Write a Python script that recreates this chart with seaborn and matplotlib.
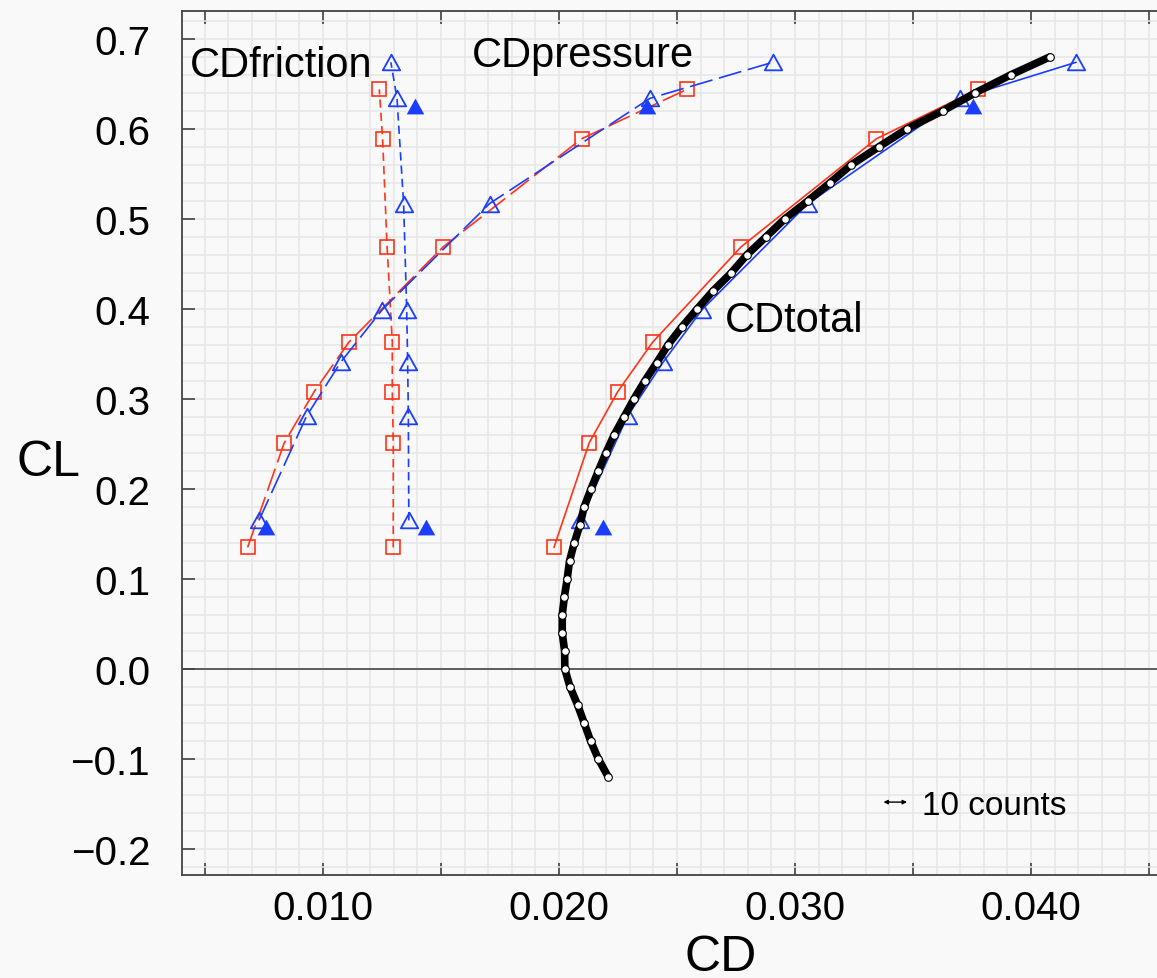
import numpy as np
import seaborn as sns
import matplotlib.pyplot as plt
from matplotlib.path import Path
from matplotlib.ticker import MultipleLocator, FuncFormatter

# red squares (one set of results)
cl_sq = [0.135, 0.251, 0.308, 0.363, 0.469, 0.589, 0.644]
cdp_sq = [0.00681, 0.00836, 0.00963, 0.01110, 0.01510, 0.02096, 0.02543]
cdf_sq = [0.01298, 0.01298, 0.01294, 0.01294, 0.01272, 0.01253, 0.01239]
cdt_sq = [0.01979, 0.02128, 0.02249, 0.02397, 0.02772, 0.03345, 0.03775]

# blue open triangles
cl_tri = [0.165, 0.281, 0.341, 0.399, 0.517, 0.634, 0.674]
cdp_tri = [0.00729, 0.00931, 0.01076, 0.01251, 0.01706, 0.02386, 0.02906]
cdf_tri = [0.01364, 0.01362, 0.01359, 0.01355, 0.01342, 0.01314, 0.01288]
cdt_tri = [0.02089, 0.02291, 0.02442, 0.02606, 0.03055, 0.03699, 0.04191]

# blue filled triangles
cl_fill = [0.158, 0.625]
cdp_fill = [0.00758, 0.02374]
cdf_fill = [0.01435, 0.01390]
cdt_fill = [0.02185, 0.03753]

# black drag polar
cl_polar = [-0.12, -0.10, -0.08, -0.06, -0.04, -0.02, 0.00, 0.02, 0.04, 0.06,
            0.08, 0.10, 0.12, 0.14, 0.16, 0.18, 0.20, 0.22, 0.24, 0.26,
            0.28, 0.30, 0.32, 0.34, 0.36, 0.38, 0.40, 0.42, 0.44, 0.46,
            0.48, 0.50, 0.52, 0.54, 0.56, 0.58, 0.60, 0.62, 0.64, 0.66, 0.68]
cd_polar = [0.02209, 0.02167, 0.02134, 0.02107, 0.02079, 0.02047, 0.02025, 0.02024, 0.02014, 0.02014,
            0.02023, 0.02035, 0.02045, 0.02065, 0.02089, 0.02107, 0.02136, 0.02167, 0.02199, 0.02234,
            0.02276, 0.02318, 0.02364, 0.02414, 0.02462, 0.02521, 0.02586, 0.02653, 0.02730, 0.02796,
            0.02877, 0.02957, 0.03055, 0.03148, 0.03238, 0.03355, 0.03474, 0.03626, 0.03764, 0.03914,
            0.04080]

RED = '#ff3418'
BLUE = '#1a3dff'
BG = '#f9f9f9'

sns.set_theme(style="ticks")
plt.rcParams['font.family'] = ['Liberation Sans', 'DejaVu Sans']
plt.rcParams['text.color'] = 'black'
plt.rcParams['axes.labelcolor'] = 'black'
plt.rcParams['xtick.labelcolor'] = 'black'
plt.rcParams['ytick.labelcolor'] = 'black'

fig = plt.figure(figsize=(11.57, 9.79), dpi=100, facecolor=BG)
ax = fig.add_axes([182/1157, 1-876/979, 1-182/1157, (876-12)/979])
ax.set_facecolor(BG)

tri = Path([(-1, -0.9), (1, -0.9), (0, 0.9), (-1, -0.9)],
           [Path.MOVETO, Path.LINETO, Path.LINETO, Path.CLOSEPOLY])

long_dash = (0, (14, 4))
short_dash = (0, (5, 3))

# red series
for cd, ls in [(cdp_sq, long_dash), (cdf_sq, short_dash), (cdt_sq, '-')]:
    sns.lineplot(x=cd, y=cl_sq, sort=False, estimator=None, ax=ax, color=RED,
                 lw=1.2, linestyle=ls, marker='s', ms=10, mfc='none',
                 mec=RED, mew=1.2)

# blue series
for cd, ls in [(cdp_tri, long_dash), (cdf_tri, short_dash), (cdt_tri, '-')]:
    sns.lineplot(x=cd, y=cl_tri, sort=False, estimator=None, ax=ax, color=BLUE,
                 lw=1.2, linestyle=ls, marker=tri, ms=12.5, mfc='none',
                 mec=BLUE, mew=1.3)

for cd in [cdp_fill, cdf_fill, cdt_fill]:
    sns.scatterplot(x=cd, y=cl_fill, ax=ax, marker=tri, s=160, color=BLUE,
                    linewidth=0, zorder=3)

ax.axhline(0, color='#444444', lw=1.2, zorder=1.5)

sns.lineplot(x=cd_polar, y=cl_polar, sort=False, estimator=None, ax=ax,
             color='black', lw=5.5, marker='o', ms=5.5, mfc='white', mec='black',
             mew=0.8, zorder=4, solid_capstyle='round')

ax.set_xlim(0.00403, 0.04534)
ax.set_ylim(-0.229, 0.731)

ax.xaxis.set_major_locator(MultipleLocator(0.005))
ax.xaxis.set_minor_locator(MultipleLocator(0.001))
ax.yaxis.set_major_locator(MultipleLocator(0.1))
ax.yaxis.set_minor_locator(MultipleLocator(0.02))
ax.xaxis.set_major_formatter(FuncFormatter(
    lambda v, p: f"{v:.3f}" if round(v * 1000) % 10 == 0 else ""))
ax.yaxis.set_major_formatter(FuncFormatter(
    lambda v, p: "0.0" if abs(v) < 1e-9 else f"{v:.1f}".replace('-', '\u2212')))

ax.grid(which='both', color='#e6e6e6', lw=1.1, zorder=0)
ax.set_axisbelow(True)
ax.tick_params(which='major', direction='in', length=9, width=1.1,
               color='#333333', top=True, right=False, labelsize=29)
ax.tick_params(axis='y', pad=23)
ax.tick_params(axis='x', pad=10)
ax.tick_params(which='minor', length=0)
for s in ['left', 'bottom', 'top']:
    ax.spines[s].set_color('#444444')
    ax.spines[s].set_linewidth(1.3)
ax.spines['right'].set_visible(False)

ax.set_xlabel('CD', fontsize=36)
ax.xaxis.set_label_coords(0.552, -0.068)
ax.set_ylabel('CL', fontsize=36, rotation=0, ha='center', va='center')
ax.yaxis.set_label_coords(-0.137, 0.478)

ax.text(0.00436, 0.659, 'CDfriction', fontsize=30, va='baseline')
ax.text(0.01631, 0.670, 'CDpressure', fontsize=30, va='baseline')
ax.text(0.02703, 0.3756, 'CDtotal', fontsize=30, va='baseline')

ax.annotate('', xy=(0.03475, -0.148), xytext=(0.03375, -0.148),
            arrowprops=dict(arrowstyle='<|-|>', lw=1, color='black',
                            shrinkA=0, shrinkB=0, mutation_scale=6))
ax.text(0.03538, -0.161, '10 counts', fontsize=24, va='baseline')

fig.savefig('out.png', dpi=100, facecolor=BG)
